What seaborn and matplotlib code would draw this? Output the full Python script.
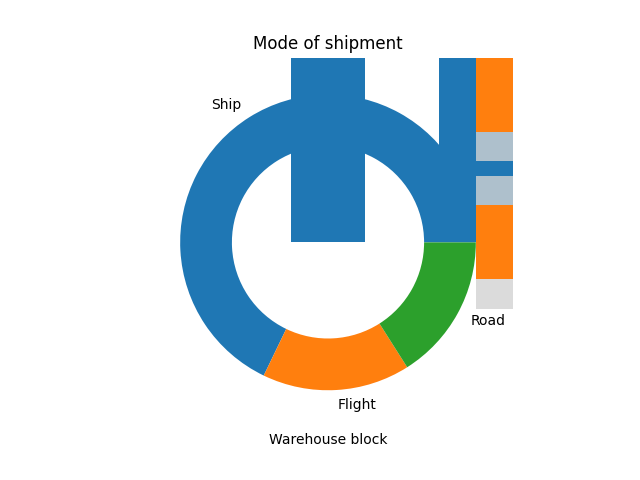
import numpy as np
import pandas as pd
import matplotlib
matplotlib.use('Agg')
import matplotlib.pyplot as plt
import seaborn as sns

# pie: mode of shipment counts
shipment_modes = ['Ship', 'Flight', 'Road']
shipment_counts = [7462, 1777, 1760]

# vertical bars (warehouse blocks) - they run off the top of the axes
blocks = ['A', 'B']
block_counts = [1833, 1833]

# horizontal bars drawn over the right edge
groups = ['0', '1']
group_totals = [5545, 5454]
group_on_time = [3296, 3267]

fig, ax = plt.subplots(figsize=(6.4, 4.8), dpi=100)

ax.pie(shipment_counts, labels=shipment_modes, colors=['C0', 'C1', 'C2'],
       wedgeprops=dict(width=0.35))
ax.set_title('Mode of shipment')

sns.barplot(x=blocks, y=block_counts, color='C0', saturation=1, width=0.5,
            errorbar=None, legend=False, ax=ax)

sns.barplot(y=groups, x=group_totals, orient='h', color='lightgray', alpha=0.8,
            saturation=1, width=0.9, errorbar=None, left=1.0, legend=False, ax=ax)
sns.barplot(y=groups, x=group_on_time, orient='h', color='C1', saturation=1,
            width=0.5, errorbar=None, left=1.0, legend=False, ax=ax)

#put the pie limits back
ax.set_xlim(-1.25, 1.25)
ax.set_ylim(-1.25, 1.25)
ax.set_aspect('equal')
ax.set_xticks([])
ax.set_yticks([])
ax.set_frame_on(False)
ax.set_ylabel('')
ax.set_xlabel('Warehouse block')
ax.xaxis.label.set_visible(True)  # seaborn hides it when there are no tick labels
if ax.get_legend() is not None:
    ax.get_legend().remove()

fig.savefig('out.png')
